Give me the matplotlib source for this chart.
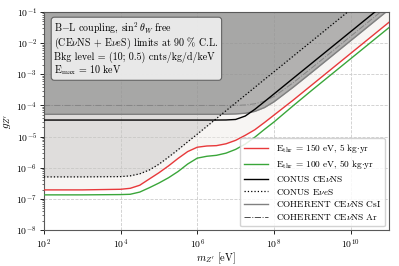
import matplotlib
matplotlib.use("Agg")
from matplotlib import pyplot as plt

plt.rcParams['font.family'] = ['cmr10', 'DejaVu Serif']
plt.rcParams['mathtext.fontset'] = 'cm'
plt.rcParams['axes.formatter.use_mathtext'] = True

# mediator mass grid [eV] (read at quarter decades)
m_zp = [1e2, 1e3, 1e4, 1.78e4, 3.16e4, 5.62e4, 1e5, 1.78e5, 3.16e5, 5.62e5,
        1e6, 1.78e6, 3.16e6, 5.62e6, 1e7, 1.78e7, 3.16e7, 5.62e7, 1e8,
        3.16e8, 1e9, 1e10, 1e11]

# projected limits
g_150ev = [1.95e-7, 1.95e-7, 2.04e-7, 2.19e-7, 2.75e-7, 4.37e-7, 6.92e-7, 1.15e-6,
           2.0e-6, 3.31e-6, 4.57e-6, 5.0e-6, 5.13e-6, 5.89e-6, 7.59e-6, 1.10e-5,
           1.66e-5, 2.82e-5, 4.90e-5, 1.48e-4, 4.68e-4, 4.68e-3, 4.68e-2]
g_100ev = [1.35e-7, 1.35e-7, 1.38e-7, 1.41e-7, 1.66e-7, 2.29e-7, 3.24e-7, 4.79e-7,
           7.59e-7, 1.32e-6, 2.04e-6, 2.34e-6, 2.51e-6, 2.95e-6, 3.89e-6, 5.75e-6,
           9.55e-6, 1.70e-5, 2.95e-5, 9.77e-5, 3.16e-4, 3.16e-3, 3.16e-2]

# existing limits
g_conus_cevns = [3.4e-5, 3.4e-5, 3.4e-5, 3.4e-5, 3.4e-5, 3.4e-5, 3.4e-5, 3.4e-5,
                 3.4e-5, 3.4e-5, 3.4e-5, 3.4e-5, 3.4e-5, 3.42e-5, 3.55e-5, 4.57e-5,
                 7.5e-5, 1.32e-4, 2.34e-4, 7.41e-4, 2.34e-3, 2.34e-2, 2.34e-1]
g_conus_eves = [5.1e-7, 5.1e-7, 5.2e-7, 5.5e-7, 6.4e-7, 8.5e-7, 1.3e-6, 2.2e-6,
                3.8e-6, 6.8e-6, 1.2e-5, 2.14e-5, 3.8e-5, 6.8e-5, 1.2e-4, 2.14e-4,
                3.8e-4, 6.8e-4, 1.2e-3, 3.8e-3, 1.2e-2, 1.2e-1, 1.2]
g_coh_csi = [5.2e-5, 5.2e-5, 5.2e-5, 5.2e-5, 5.2e-5, 5.2e-5, 5.2e-5, 5.2e-5,
             5.2e-5, 5.2e-5, 5.2e-5, 5.2e-5, 5.2e-5, 5.24e-5, 5.34e-5, 5.62e-5,
             6.44e-5, 8.53e-5, 1.31e-4, 3.84e-4, 1.2e-3, 1.2e-2, 1.2e-1]
g_coh_ar = [1.0e-4, 1.0e-4, 1.0e-4, 1.0e-4, 1.0e-4, 1.0e-4, 1.0e-4, 1.0e-4,
            1.0e-4, 1.0e-4, 1.0e-4, 1.0e-4, 1.0e-4, 1.0e-4, 1.0e-4, 1.04e-4,
            1.13e-4, 1.37e-4, 1.94e-4, 5.34e-4, 1.66e-3, 1.66e-2, 1.66e-1]

fig = plt.figure(figsize=(3.99, 2.66), dpi=100)
ax = fig.add_axes([0.110, 0.135, 0.865, 0.820])
ax.set_axisbelow(True)

top = 1.0
ax.fill_between(m_zp, g_150ev, top, color='#efebe6', alpha=0.45, lw=0, zorder=1)
ax.fill_between(m_zp, g_conus_eves, top, color='gray', alpha=0.2, lw=0, zorder=1.1)
ar_line, = ax.plot(m_zp, g_coh_ar, color='0.55', lw=0.7, ls='-.', zorder=1.15)
ax.fill_between(m_zp, g_coh_csi, top, color='gray', alpha=0.58, lw=0, zorder=1.2)

ax.plot(m_zp, g_150ev, color='#e8393b', lw=1.0, zorder=3,
        label=r'E$_{\rm thr}$ = 150 eV, 5 kg$\cdot$yr')
ax.plot(m_zp, g_100ev, color='#3aa63a', lw=1.0, zorder=3,
        label=r'E$_{\rm thr}$ = 100 eV, 50 kg$\cdot$yr')
ax.plot(m_zp, g_conus_cevns, color='k', lw=1.0, zorder=3, label=r'CONUS CE$\nu$NS')
ax.plot(m_zp, g_conus_eves, color='k', lw=0.9, ls=':', zorder=3, label=r'CONUS E$\nu e$S')
ax.plot(m_zp, g_coh_csi, color='0.5', lw=1.0, zorder=2.5, label=r'COHERENT CE$\nu$NS CsI')
# legend entry for the Ar curve drawn darker, as in the key
ax.plot([], [], color='0.3', lw=0.7, ls='-.', label=r'COHERENT CE$\nu$NS Ar')

ax.set_xscale('log')
ax.set_yscale('log')
ax.set_xlim(1e2, 1e11)
ax.set_ylim(1e-8, 1e-1)
ax.set_xticks([1e2, 1e4, 1e6, 1e8, 1e10])
ax.set_yticks([1e-8, 1e-7, 1e-6, 1e-5, 1e-4, 1e-3, 1e-2, 1e-1])
ax.tick_params(labelsize=7, width=0.6, length=3, pad=2)
ax.tick_params(which='minor', width=0.4, length=1.5)
ax.grid(True, which='major', ls='--', color='0.8', lw=0.6)
for s in ax.spines.values():
    s.set_color('0.35')
    s.set_linewidth(0.8)

ax.set_xlabel(r"$m_{Z'}$ [eV]", fontsize=7.5, labelpad=0)
ax.set_ylabel(r"$g_{Z'}$", fontsize=8, labelpad=2)

ax.text(0.03, 0.96,
        "B$-$L coupling, $\\sin^2\\theta_W$ free\n"
        "(CE$\\nu$NS + E$\\nu e$S) limits at 90 % C.L.\n"
        "Bkg level = (10; 0.5) cnts/kg/d/keV\n"
        "E$_{\\rm max}$ = 10 keV",
        transform=ax.transAxes, ha='left', va='top', fontsize=7.2, zorder=5,
        linespacing=1.05,
        bbox=dict(boxstyle='round,pad=0.3', fc='#f0f0f0', ec='0.35', lw=0.8, alpha=0.9))

ax.legend(loc='lower right', fontsize=6.7, frameon=True, framealpha=0.85,
          edgecolor='0.8', handlelength=2.6, labelspacing=0.3, borderpad=0.45,
          borderaxespad=0.4)

fig.savefig('out.png', dpi=100)
